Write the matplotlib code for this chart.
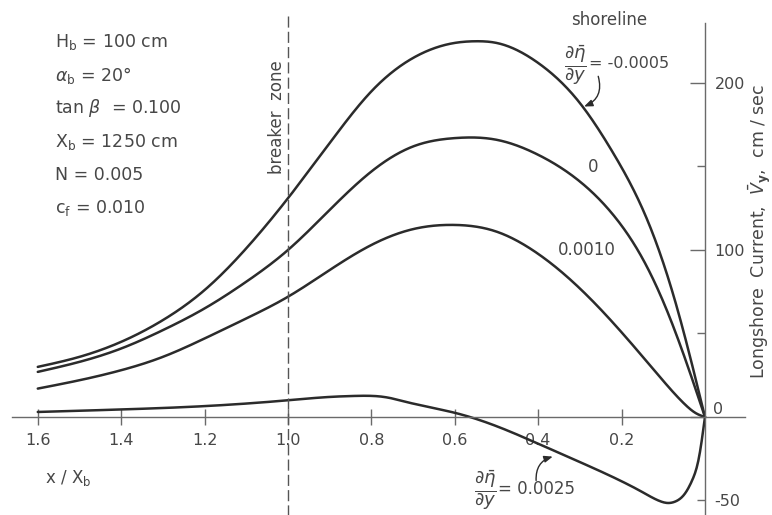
import numpy as np
import matplotlib
matplotlib.use("Agg")
import matplotlib.pyplot as plt

# ---- data (x/Xb, longshore current cm/sec) ----
x_m0005 = [1.6, 1.5, 1.4, 1.3, 1.2, 1.1, 1.0, 0.9, 0.8, 0.7, 0.6, 0.55, 0.5,
           0.4, 0.3, 0.22, 0.14, 0.07, 0.0]
v_m0005 = [30, 36, 45, 58, 76, 101, 131, 164, 195, 215, 224, 225, 224,
           212, 188, 158, 119, 68, 0]

x_0 = [1.6, 1.5, 1.4, 1.3, 1.2, 1.1, 1.0, 0.9, 0.8, 0.7, 0.6, 0.5,
       0.4, 0.3, 0.22, 0.15, 0.09, 0.045, 0.0]
v_0 = [27, 33, 41, 52, 65, 81, 100, 124, 147, 162, 167, 166,
       157, 141, 121, 95, 63, 33, 0]

x_0010 = [1.6, 1.5, 1.4, 1.3, 1.2, 1.1, 1.0, 0.9, 0.8, 0.7, 0.6, 0.5,
          0.42, 0.34, 0.26, 0.18, 0.115, 0.05, 0.02, 0.0]
v_0010 = [17, 22, 28, 36, 47, 59, 72, 88, 103, 112.5, 115, 111,
          101, 86, 67, 45, 26, 8, 2, 0]

x_0025 = [1.6, 1.4, 1.2, 1.0, 0.9, 0.84, 0.77, 0.70, 0.60, 0.5, 0.4, 0.3,
          0.2, 0.15, 0.11, 0.09, 0.07, 0.05, 0.03, 0.015, 0.0]
v_0025 = [3, 4.5, 6.5, 10, 12, 12.6, 12, 8, 2.5, -5.5, -16, -27,
          -38.5, -45, -50.2, -51.5, -50.5, -46.5, -37.5, -25, 0]

x_ticks = [1.6, 1.4, 1.2, 1.0, 0.8, 0.6, 0.4, 0.2]
x_tick_labels = ["1.6", "1.4", "1.2", "1.0", "0.8", "0.6", "0.4", "0.2"]
y_major = [0, 100, 200]
y_major_labels = ["", "100", "200"]
y_minor = [-50, 50, 150]
y_minor_labels = ["-50", "", ""]
breaker_x = 1.0

params = [r"H$_\mathregular{b}$ = 100 cm",
          r"$\alpha_\mathregular{b}$ = 20°",
          r"tan $\beta$  = 0.100",
          r"X$_\mathregular{b}$ = 1250 cm",
          r"N = 0.005",
          r"c$_\mathregular{f}$ = 0.010"]


def cspline(x, y, xs):
    """natural cubic spline through the read points (for smooth drawing)"""
    x = np.asarray(x, float)
    y = np.asarray(y, float)
    o = np.argsort(x)
    x, y = x[o], y[o]
    n = len(x)
    h = np.diff(x)
    A = np.zeros((n, n))
    b = np.zeros(n)
    A[0, 0] = A[-1, -1] = 1.0
    for i in range(1, n - 1):
        A[i, i - 1] = h[i - 1]
        A[i, i] = 2 * (h[i - 1] + h[i])
        A[i, i + 1] = h[i]
        b[i] = 6 * ((y[i + 1] - y[i]) / h[i] - (y[i] - y[i - 1]) / h[i - 1])
    M = np.linalg.solve(A, b)
    idx = np.clip(np.searchsorted(x, xs) - 1, 0, n - 2)
    x0, x1 = x[idx], x[idx + 1]
    hh = h[idx]
    a = (x1 - xs) / hh
    c = (xs - x0) / hh
    return (a * y[idx] + c * y[idx + 1] +
            ((a**3 - a) * M[idx] + (c**3 - c) * M[idx + 1]) * hh**2 / 6)


TXT = "#474747"
AX = "#6a6a6a"
LN = "#2b2b2b"
FS = 11.5

plt.rcParams["font.family"] = ["DejaVu Sans"]
plt.rcParams["mathtext.fontset"] = "dejavusans"

fig = plt.figure(figsize=(7.72, 5.15), dpi=100)
ax = fig.add_axes([0, 0, 1, 1])
ax.patch.set_visible(False)
ax.set_xlim(1.6906, -0.1607)
ax.set_ylim(-58.7, 249.7)

for xs_, vs_ in [(x_m0005, v_m0005), (x_0, v_0), (x_0010, v_0010), (x_0025, v_0025)]:
    xx = np.linspace(min(xs_), max(xs_), 800)
    ax.plot(xx, cspline(xs_, vs_, xx), color=LN, lw=1.8, solid_capstyle="round")

# breaker line
ax.plot([breaker_x, breaker_x], [-60, 240.7], color="#555555", lw=1.0,
        dashes=(8, 3))

# spines
for s in ["top", "left"]:
    ax.spines[s].set_visible(False)
ax.spines["bottom"].set_position(("data", 0))
ax.spines["bottom"].set_bounds(-0.096, 1.662)
ax.spines["right"].set_position(("data", 0))
ax.spines["right"].set_bounds(-60, 236)
for s in ["bottom", "right"]:
    ax.spines[s].set_color(AX)
    ax.spines[s].set_linewidth(1.0)

ax.xaxis.set_ticks_position("bottom")
ax.set_xticks(x_ticks)
ax.set_xticklabels(x_tick_labels)
ax.tick_params(axis="x", direction="inout", length=11, width=1.0, color=AX,
               labelcolor=TXT, labelsize=FS, pad=6)

ax.yaxis.tick_right()
ax.set_yticks(y_major)
ax.set_yticklabels(y_major_labels)
ax.set_yticks(y_minor, minor=True)
ax.set_yticklabels(y_minor_labels, minor=True)
ax.tick_params(axis="y", which="major", direction="in", length=11, width=1.0,
               color=AX, labelcolor=TXT, labelsize=FS, pad=7)
ax.tick_params(axis="y", which="minor", direction="in", length=6, width=1.0,
               color=AX, labelcolor=TXT, labelsize=FS, pad=7)

W, H = 772.0, 515.0


def ft(px, py, s, **kw):
    kw.setdefault("color", TXT)
    kw.setdefault("fontsize", FS)
    fig.text(px / W, 1 - py / H, s, **kw)


ft(713, 409, "0", ha="left", va="center")

for i, p in enumerate(params):
    ft(55, 42 + 33.2 * i, p, ha="left", va="center", fontsize=12.5)

ft(277, 117, "breaker  zone", rotation=90, ha="center", va="center", fontsize=12)
ft(609, 20, "shoreline", ha="center", va="center", fontsize=12)
ft(760, 231, r"Longshore  Current,  $\bar{V}_{\mathbf{y}}$,  cm / sec", rotation=90,
   ha="center", va="center", fontsize=12.5)
ft(45, 478, r"x / X$_\mathregular{b}$", ha="left", va="center", fontsize=12)

frac = r"$\dfrac{\partial\bar{\eta}}{\partial y}$"
ft(575, 65, frac, ha="center", va="center", fontsize=13)
ft(589, 64, "= -0.0005", ha="left", va="center", fontsize=11.5)
ft(593, 167, "0", ha="center", va="center", fontsize=12)
ft(587, 250, "0.0010", ha="center", va="center", fontsize=12)
ft(485, 490, frac, ha="center", va="center", fontsize=13)
ft(498, 489, "= 0.0025", ha="left", va="center", fontsize=12)

ax.annotate("", xy=(0.293, 185.6), xytext=(0.256, 204),
            arrowprops=dict(arrowstyle="-|>,head_length=0.5,head_width=0.2",
                            color=LN, lw=1.0, shrinkA=0, shrinkB=1,
                            connectionstyle="arc3,rad=-0.45"))
ax.annotate("", xy=(0.362, -23.5), xytext=(0.405, -38),
            arrowprops=dict(arrowstyle="-|>,head_length=0.5,head_width=0.2",
                            color=LN, lw=1.0, shrinkA=0, shrinkB=1,
                            connectionstyle="arc3,rad=-0.4"))

fig.savefig("out.png", dpi=100)
